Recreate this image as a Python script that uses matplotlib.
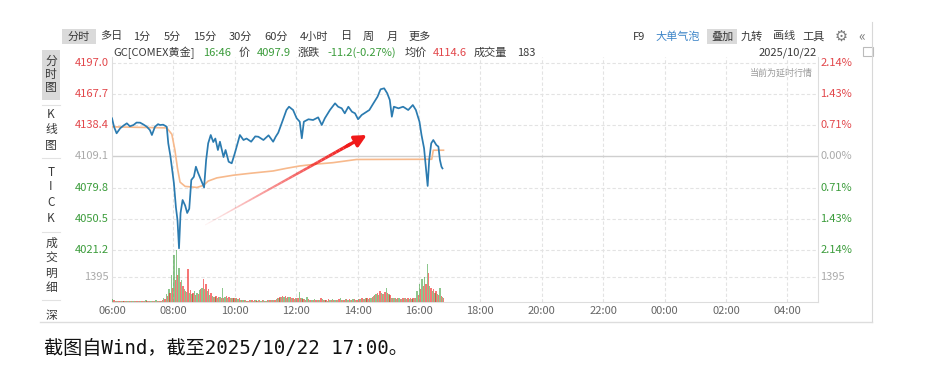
import matplotlib
matplotlib.use('Agg')
import matplotlib.pyplot as plt
import numpy as np
from matplotlib.collections import LineCollection
from matplotlib.patches import Rectangle

plt.rcParams['font.family'] = ['Noto Sans CJK SC', 'DejaVu Sans']

W, H = 927, 387

# ---- data ----
prev_close = 4109.1
price_levels = [4197.0, 4167.7, 4138.4, 4109.1, 4079.8, 4050.5, 4021.2]
pct_labels = ['2.14%', '1.43%', '0.71%', '0.00%', '0.71%', '1.43%', '2.14%']
vol_level = 1395
time_ticks = ['06:00', '08:00', '10:00', '12:00', '14:00', '16:00', '18:00',
              '20:00', '22:00', '00:00', '02:00', '04:00']

price_times = ['06:00', '06:04', '06:09', '06:16', '06:22', '06:29', '06:35', '06:42',
               '06:48', '06:55', '07:02', '07:08', '07:14', '07:18', '07:24', '07:30',
               '07:34', '07:40', '07:47', '07:50', '07:54', '07:57', '08:01', '08:05',
               '08:08', '08:11', '08:14', '08:18', '08:23', '08:27', '08:31', '08:35',
               '08:40', '08:44', '08:48', '08:54', '09:00', '09:04', '09:08', '09:13',
               '09:18', '09:22', '09:27', '09:31', '09:38', '09:42', '09:48', '09:54',
               '10:00', '10:10', '10:17', '10:23', '10:32', '10:40', '10:46', '10:56',
               '11:06', '11:15', '11:20', '11:25', '11:34', '11:41', '11:46', '11:54',
               '12:01', '12:07', '12:11', '12:15', '12:24', '12:33', '12:43', '12:50',
               '12:56', '13:06', '13:16', '13:22', '13:29', '13:35', '13:42', '13:49',
               '13:55', '14:01', '14:08', '14:15', '14:23', '14:31', '14:39', '14:45',
               '14:52', '14:58', '15:03', '15:07', '15:11', '15:20', '15:29', '15:39',
               '15:48', '15:54', '16:01', '16:05', '16:10', '16:14', '16:17', '16:20',
               '16:24', '16:28', '16:34', '16:38', '16:41', '16:44', '16:46']
price_values = [4145.0, 4137.0, 4130.9, 4135.6, 4138.0, 4140.3, 4137.5, 4138.7,
                4141.0, 4140.9, 4139.0, 4137.1, 4134.0, 4129.3, 4137.1, 4139.5,
                4138.7, 4139.0, 4137.1, 4121.5, 4110.0, 4099.0, 4084.0, 4061.0,
                4049.4, 4022.8, 4056.0, 4068.2, 4063.0, 4056.0, 4060.0, 4087.0,
                4090.0, 4099.5, 4094.0, 4087.0, 4080.0, 4105.8, 4121.5, 4129.3,
                4122.7, 4126.0, 4115.2, 4123.0, 4108.6, 4115.2, 4104.2, 4102.7,
                4112.0, 4129.3, 4124.6, 4126.0, 4123.0, 4128.0, 4127.7, 4124.6,
                4129.0, 4123.0, 4127.7, 4131.5, 4143.4, 4152.8, 4155.9, 4152.8,
                4145.0, 4141.8, 4126.2, 4141.8, 4144.1, 4143.4, 4145.9, 4138.7,
                4145.0, 4152.8, 4159.1, 4155.9, 4154.4, 4149.7, 4155.9, 4151.2,
                4149.7, 4144.1, 4148.1, 4150.3, 4152.8, 4159.1, 4165.3, 4172.3,
                4173.2, 4168.5, 4162.2, 4146.5, 4155.9, 4154.4, 4155.9, 4152.8,
                4157.5, 4152.8, 4141.8, 4129.3, 4116.8, 4096.4, 4081.4, 4105.8,
                4121.5, 4124.6, 4119.9, 4118.4, 4105.8, 4099.5, 4097.9]

avg_times = ['06:00', '07:47', '07:57', '08:03', '08:08', '08:13', '08:23', '08:46',
             '08:59', '09:08', '09:25', '09:57', '10:30', '11:15', '11:41', '12:07',
             '12:40', '13:12', '13:58', '16:25', '16:28', '16:48']
avg_values = [4137.0, 4136.0, 4130.0, 4115.0, 4098.0, 4085.0, 4081.0, 4080.0,
              4082.0, 4086.0, 4089.0, 4091.5, 4093.3, 4095.5, 4098.0, 4100.2,
              4102.0, 4103.3, 4106.3, 4106.5, 4115.0, 4115.0]

# volume in 5-minute buckets starting 06:00
vol_green = [170, 60, 40, 50, 80, 40, 30, 60, 50, 40, 70, 50, 40, 90, 60, 50, 40, 100, 60, 80,
             250, 450, 700, 1500, 2600, 2900, 1900, 1200, 700, 550, 500, 450, 600, 500, 650,
             800, 700, 600, 400, 350, 300, 250, 300, 800, 300, 250, 200, 250, 200, 150,
             120, 90, 100, 80, 110, 70, 90, 130, 80, 100, 60, 90, 120, 100,
             150, 250, 300, 280, 220, 260, 200, 180, 240, 550, 200,
             150, 300, 120, 100, 140, 90, 110, 160, 100, 80, 130, 150, 90, 120, 200, 110,
             140, 100, 130, 160, 120, 150, 180, 140, 200, 170, 200,
             350, 450, 400, 500, 450, 800, 450,
             250, 200, 180, 220, 150, 200, 170, 190, 160, 220,
             600, 1000, 1300, 1400, 2100, 900, 600, 500, 450, 800, 300]
vol_red = [120, 50, 60, 40, 70, 50, 40, 80, 60, 50, 40, 60, 70, 50, 60, 80, 40, 60, 70, 90,
           180, 350, 500, 800, 1200, 1500, 1100, 900, 600, 1850, 650, 500, 400, 450, 700,
           1300, 1000, 700, 500, 300, 350, 300, 200, 250, 350, 300, 250, 200, 250, 200,
           100, 120, 80, 110, 90, 100, 70, 120, 90, 80, 110, 100, 90, 130,
           250, 300, 350, 320, 280, 300, 250, 220, 200, 200, 150,
           120, 150, 100, 130, 110, 90, 250, 120, 100, 140, 110, 90, 130, 150, 120, 100,
           180, 140, 120, 150, 130, 170, 200, 160, 220, 250, 300,
           400, 500, 600, 450, 550, 500, 400,
           200, 250, 220, 180, 230, 200, 250, 220, 200, 250,
           400, 700, 900, 1000, 1600, 800, 700, 600, 400, 350, 200]


def mins(s):
    h, m = map(int, s.split(':'))
    return (h * 60 + m - 360) % 1440


def box(x0, y0, x1, y1):
    return [x0 / W, 1 - y1 / H, (x1 - x0) / W, (y1 - y0) / H]


RED = '#e2474b'
GREEN = '#3b9c3b'
GRAY = '#aaaaaa'
TXT = '#3a3a3a'

fig = plt.figure(figsize=(W / 100, H / 100), dpi=100)

# overlay in pixel coordinates for the app chrome
ov = fig.add_axes([0, 0, 1, 1])
ov.set_xlim(0, W)
ov.set_ylim(H, 0)
ov.axis('off')

# price panel (spans down to volume baseline)
ax = fig.add_axes(box(112, 57, 818, 302))
ax.patch.set_alpha(0)
ax.set_xlim(0, 1380)
ax.set_ylim(3972.31, 4202.64)
ax.spines['top'].set_visible(False)
for s in ['left', 'right', 'bottom']:
    ax.spines[s].set_color('#dddddd')
    ax.spines[s].set_linewidth(0.8)
ax.set_yticks([])
tick_pos = [mins(t) for t in time_ticks]
ax.set_xticks(tick_pos)
ax.set_xticklabels(time_ticks, fontsize=8, color='#666666')
ax.tick_params(axis='x', length=0, pad=3)

for x in tick_pos[1:]:
    ax.axvline(x, color='#e3e3e3', lw=0.8, ls=(0, (3, 2)), zorder=0)
for lv in price_levels:
    if lv == prev_close:
        ax.axhline(lv, color='#cfcfcf', lw=1.0, zorder=0)
    else:
        ax.axhline(lv, color='#e3e3e3', lw=0.8, ls=(0, (3, 2)), zorder=0)

ytr = ax.get_yaxis_transform()
for lv, pct in zip(price_levels, pct_labels):
    c = RED if lv > prev_close else (GREEN if lv < prev_close else GRAY)
    ax.text(-0.004, lv, f'{lv:.1f}', transform=ytr, ha='right', va='center',
            fontsize=8, color=c)
    ax.text(1.003, lv, pct, transform=ytr, ha='left', va='center',
            fontsize=8, color=c)

# volume panel
av = fig.add_axes(box(112, 245, 818, 302))
av.patch.set_alpha(0)
av.set_xlim(0, 1380)
av.set_ylim(0, 3181)
av.axis('off')
av.axhline(vol_level, color='#e3e3e3', lw=0.8, ls=(0, (3, 2)), zorder=0)
vx = np.arange(len(vol_green)) * 5
av.bar(vx + 1.2, vol_green, width=2.6, color='#2f9a2f', alpha=0.55, lw=0)
av.bar(vx + 3.6, vol_red, width=2.6, color='#f01c1c', alpha=0.6, lw=0)
vtr = av.get_yaxis_transform()
av.text(-0.004, vol_level, str(vol_level), transform=vtr, ha='right', va='center',
        fontsize=8, color=GRAY)
av.text(1.003, vol_level, str(vol_level), transform=vtr, ha='left', va='center',
        fontsize=8, color=GRAY)

# lines
ax.plot([mins(t) for t in avg_times], avg_values, color='#f7b98c', lw=1.2, zorder=3)
ax.plot([mins(t) for t in price_times], price_values, color='#2b7bb0', lw=1.25, zorder=4)

# red gradient arrow
tail = np.array([182, 4044.7])
head = np.array([498, 4129.3])
n = 40
fr = np.linspace(0, 0.9, n + 1)
pts = tail + (head - tail) * fr[:, None]
segs = [[pts[i], pts[i + 1]] for i in range(n)]
cols = [(0.94, 0.1, 0.1, a) for a in np.linspace(0.05, 1.0, n)]
ax.add_collection(LineCollection(segs, colors=cols, linewidths=np.linspace(0.8, 2.4, n),
                                 capstyle='butt', zorder=5))
ax.annotate('', xy=head, xytext=pts[-2],
            arrowprops=dict(arrowstyle='-|>,head_length=0.7,head_width=0.35',
                            color='#f01a1a', lw=2.4, shrinkA=0, shrinkB=0), zorder=6)

# header row 1
ov.add_patch(Rectangle((62, 29), 34, 15, color='#dadada', lw=0))
ov.add_patch(Rectangle((707, 29), 30, 15, color='#dadada', lw=0))
row1 = [('分时', 79), ('多日', 111), ('1分', 142), ('5分', 172), ('15分', 205),
        ('30分', 240), ('60分', 276), ('4小时', 314), ('日', 347), ('周', 368),
        ('月', 392), ('更多', 420), ('F9', 639), ('九转', 752), ('画线', 784),
        ('工具', 814)]
for s, x in row1:
    ov.text(x, 36.5, s, ha='center', va='center', fontsize=8, color=TXT)
ov.text(841, 36.5, '⚙', ha='center', va='center', fontsize=10.5, color='#777777')
ov.text(862, 36, '«', ha='center', va='center', fontsize=10, color='#777777')
ov.text(678, 36.5, '大单气泡', ha='center', va='center', fontsize=8, color='#3f86c8')
ov.text(722, 36.5, '叠加', ha='center', va='center', fontsize=8, color=TXT)

# header row 2
row2 = [('GC[COMEX黄金]', 113, TXT), ('16:46', 203, GREEN), ('价', 239, TXT),
        ('4097.9', 257, GREEN), ('涨跌', 298, TXT), ('-11.2(-0.27%)', 327, GREEN),
        ('均价', 405, TXT), ('4114.6', 433, RED), ('成交量', 474, TXT), ('183', 517, TXT)]
for s, x, c in row2:
    ov.text(x, 53, s, ha='left', va='center', fontsize=8, color=c)
ov.text(817, 53, '2025/10/22', ha='right', va='center', fontsize=8, color=TXT)
ov.add_patch(Rectangle((863, 47), 10, 9, fill=False, ec='#bbbbbb', lw=0.8))
ov.text(813, 73, '当前为延时行情', ha='right', va='center', fontsize=6.5, color='#999999')

# left side tabs
ov.add_patch(Rectangle((42, 50), 18, 50, color='#dadada', lw=0))
side = [('分', 61), ('时', 74.5), ('图', 88), ('K', 115), ('线', 130), ('图', 145),
        ('T', 172), ('I', 187), ('C', 203), ('K', 218), ('成', 243), ('交', 258),
        ('明', 273), ('细', 288), ('深', 315)]
for s, y in side:
    ov.text(51, y, s, ha='center', va='center', fontsize=8.5, color=TXT)
for y in [105, 158, 232, 300]:
    ov.plot([42, 60], [y, y], color='#e2e2e2', lw=0.8)

# frame
ov.plot([872, 872], [22, 322], color='#d8d8d8', lw=0.8)
ov.plot([40, 872], [322, 322], color='#dddddd', lw=1.0)

# caption
ov.text(44, 349, '截图自Wind，截至2025/10/22 17:00。', ha='left', va='center',
        fontsize=13.8, color='#111111', family=['DejaVu Sans Mono', 'Noto Sans CJK SC'])

fig.savefig('out.png', dpi=100)
